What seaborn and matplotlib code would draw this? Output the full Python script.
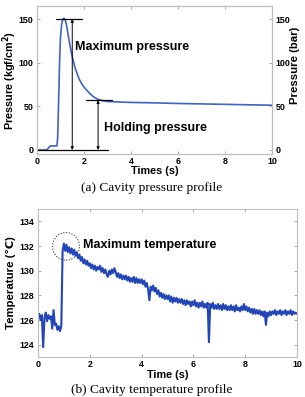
import numpy as np
import matplotlib
matplotlib.use('Agg')
import matplotlib.pyplot as plt
import seaborn as sns
from matplotlib.patches import Ellipse

# ---- data: cavity pressure ----
p_time = [0, 0.4, 0.5, 0.55, 0.85, 0.88, 0.92, 0.96, 1.0, 1.05, 1.1, 1.15, 1.2,
          1.25, 1.3, 1.4, 1.5, 1.6, 1.7, 1.8, 1.9, 2.0, 2.2, 2.4, 2.6, 2.8, 3.0,
          3.5, 4, 5, 6, 7, 8, 9, 10]
p_value = [0, 0, 2.5, 4.5, 4.8, 15, 55, 100, 130, 144, 150, 151, 149,
           144, 136, 120, 107, 96, 88, 81, 76, 72, 66, 61, 58, 56.5, 55.5,
           55, 54.5, 54, 53.3, 52.8, 52.3, 51.8, 51.3]
p_ticks = [0, 50, 100, 150]
x_ticks = [0, 2, 4, 6, 8, 10]

# annotation levels
max_level = 150
hold_level = 57

# ---- data: cavity temperature (sampled every 0.05 s) ----
temp_values = [
    126.1, 126.5, 126.0, 126.4, 123.8, 126.2, 126.6, 125.9, 126.4, 126.1,
    126.3, 125.3, 126.8, 125.6, 125.7, 125.2, 125.5, 125.1, 125.5, 131.6,
    132.2, 131.6, 132.1, 131.5, 131.9, 131.4, 131.8, 131.3, 131.7, 131.2,
    131.5, 131.0, 131.3, 130.8, 131.1, 130.6, 130.9, 130.5, 130.8, 130.4,
    130.6, 130.2, 130.5, 130.1, 130.4, 130.0, 130.3, 130.1, 130.4, 129.9,
    130.2, 129.8, 130.1, 129.7, 129.5, 130.0, 129.7, 130.1, 129.8, 130.2,
    129.9, 129.5, 129.8, 129.4, 129.7, 129.3, 129.6, 129.3, 129.6, 129.2,
    129.5, 129.1, 129.4, 129.1, 129.5, 129.0, 129.4, 129.0, 129.3, 129.0,
    129.3, 128.9, 129.2, 128.7, 129.0, 128.5, 127.6, 128.7, 128.4, 128.8,
    128.3, 128.6, 128.1, 128.4, 127.9, 128.2, 127.8, 128.1, 127.7, 128.0,
    127.7, 128.0, 127.5, 127.9, 127.4, 127.8, 127.5, 127.8, 127.4, 127.7,
    127.4, 127.7, 127.3, 127.6, 127.2, 127.6, 127.3, 127.5, 127.1, 127.5,
    127.2, 127.6, 127.1, 127.4, 127.0, 127.4, 127.1, 127.5, 127.0, 127.3,
    127.0, 127.4, 124.2, 127.3, 127.0, 127.4, 126.9, 127.2, 126.9, 127.3,
    126.9, 127.2, 126.8, 127.3, 126.9, 127.2, 126.8, 127.1, 126.8, 127.2,
    126.8, 127.1, 126.7, 127.2, 126.8, 127.0, 126.7, 127.1, 126.8, 127.3,
    126.8, 127.1, 126.7, 127.0, 126.6, 126.9, 126.5, 126.9, 126.5, 126.8,
    126.5, 126.8, 126.4, 126.7, 126.3, 126.7, 125.6, 126.6, 126.3, 126.7,
    126.4, 126.7, 126.5, 126.8, 126.4, 126.7, 126.5, 126.8, 126.4, 126.7,
    126.5, 126.8, 126.4, 126.7, 126.5, 126.8, 126.4, 126.7, 126.5, 126.6,
    126.5,
]
temp_time = np.round(np.arange(len(temp_values)) * 0.05, 2)
t_ticks = [124, 126, 128, 130, 132, 134]
max_temp_point = (1.08, 131.97)

sns.set_theme(style='white')
plt.rcParams['font.family'] = ['Liberation Sans', 'DejaVu Sans']
plt.rcParams['font.weight'] = 'bold'
plt.rcParams['axes.labelweight'] = 'bold'
plt.rcParams['text.color'] = 'black'
plt.rcParams['axes.labelcolor'] = 'black'
plt.rcParams['xtick.color'] = 'black'
plt.rcParams['ytick.color'] = 'black'

fig = plt.figure(figsize=(3.05, 3.97), dpi=100)
W, H = 305, 397

def box(l, t, r, b):
    return [l / W, 1 - b / H, (r - l) / W, (b - t) / H]

spine_c = '#bdbdbd'
tick_fs = 6.4

def style(ax):
    for s in ax.spines.values():
        s.set_color(spine_c)
        s.set_linewidth(0.8)
    ax.tick_params(direction='in', length=2.5, width=0.6, color='#9a9a9a',
                   labelsize=tick_fs, pad=2.5, labelcolor='black')

# ---------- top: pressure ----------
ax1 = fig.add_axes(box(37, 6, 272, 154))
sns.lineplot(x=p_time, y=p_value, ax=ax1, color='#4063c4', lw=1.2,
             estimator=None)
ax1.set_xlim(0, 10)
ax1.set_ylim(-4.6, 165)
ax1.set_xticks(x_ticks)
ax1.set_yticks(p_ticks)
style(ax1)
ax1.tick_params(top=True, right=False, bottom=True, left=True)
ax1.set_xlabel('Times (s)', fontsize=7.8, fontweight='bold')
ax1.set_ylabel('Pressure (kgf/cm$^\\mathbf{2}$)', fontsize=7.8,
               fontweight='bold')
ax1.xaxis.set_label_coords(0.5, -0.078)
ax1.yaxis.set_label_coords(-0.078, 0.5)

ax2 = ax1.twinx()
ax2.set_ylim(-4.6, 165)
ax2.set_yticks(p_ticks)
style(ax2)
ax2.tick_params(right=True, left=False)
ax2.set_ylabel('Pressure (bar)', fontsize=8.2, fontweight='bold')
ax2.yaxis.set_label_coords(1.075, 0.60)
ax2.grid(False)

# annotation lines
ax1.plot([0.8, 1.9], [max_level, max_level], color='black', lw=0.9)
ax1.plot([0, 3], [0, 0], color='black', lw=0.9)
ax1.plot([2.1, 3.2], [hold_level, hold_level], color='black', lw=0.9)
arrow = dict(arrowstyle='<|-|>', lw=0.7, color='black', mutation_scale=4,
             shrinkA=0, shrinkB=0)
ax1.annotate('', xy=(1.5, max_level), xytext=(1.5, 0), arrowprops=arrow)
ax1.annotate('', xy=(2.6, hold_level), xytext=(2.6, 0), arrowprops=arrow)
ax1.text(1.63, 118, 'Maximum pressure', fontsize=9, fontweight='bold',
         va='center', ha='left')
ax1.text(2.85, 25, 'Holding pressure', fontsize=9, fontweight='bold',
         va='center', ha='left')

# ---------- bottom: temperature ----------
ax3 = fig.add_axes(box(38, 209, 297, 357))
sns.lineplot(x=temp_time, y=temp_values, ax=ax3, color='#2246b8', lw=1.5,
             estimator=None)
ax3.set_xlim(0, 10)
ax3.set_ylim(123, 135)
ax3.set_xticks(x_ticks)
ax3.set_yticks(t_ticks)
style(ax3)
ax3.tick_params(top=True, right=True, bottom=True, left=True)
ax3.set_xlabel('Time (s)', fontsize=7.8, fontweight='bold')
ax3.set_ylabel('Temperature (\u2103)', fontsize=8.2, fontweight='bold')
ax3.xaxis.set_label_coords(0.5, -0.085)
ax3.yaxis.set_label_coords(-0.085, 0.5)

ax3.add_patch(Ellipse(max_temp_point, width=1.04, height=2.24, fill=False,
                      ls=(0, (1, 1.5)), lw=0.8, color='#333333'))
ax3.text(1.74, 132.1, 'Maximum temperature', fontsize=9, fontweight='bold',
         va='center', ha='left')

# captions
fig.text(152 / W, 1 - 188 / H, '(a) Cavity pressure profile',
         family=['Liberation Serif', 'DejaVu Serif'], fontweight='normal',
         fontsize=9.6, ha='center', va='center')
fig.text(152 / W, 1 - 390 / H, '(b) Cavity temperature profile',
         family=['Liberation Serif', 'DejaVu Serif'], fontweight='normal',
         fontsize=9.6, ha='center', va='center')

fig.savefig('out.png', dpi=100)
